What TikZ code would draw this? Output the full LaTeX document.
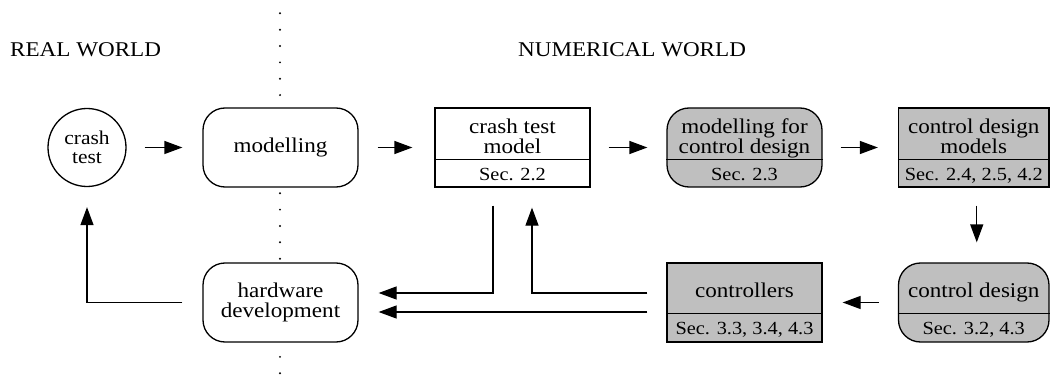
\documentclass[tikz,border=0pt]{standalone}
\usepackage{fontspec}
\setmainfont{Liberation Serif}[FakeStretch=1.1]
\usetikzlibrary{arrows.meta}

\newcommand\mainsz{\fontsize{21pt}{20pt}\selectfont}
\newcommand\secsz{\fontsize{18.5pt}{20pt}\selectfont}
\newcommand\circsz{\fontsize{19.5pt}{19pt}\selectfont}

\tikzset{
  stage/.style={draw, line width=1.3pt, fill=white, inner sep=0pt,
                minimum width=155pt, minimum height=79pt, align=center, font=\mainsz},
  roundstage/.style={stage, rounded corners=22pt},
  shaded/.style={fill=black!25},
  caption/.style={inner sep=0pt, align=center, font=\mainsz},
  seclabel/.style={inner sep=0pt, font=\secsz},
  splitline/.style={line width=1.3pt},
  flow/.style={line width=1.3pt, -{Triangle[length=18pt,width=13pt]}},
  worldlabel/.style={inner sep=0pt, anchor=base west, font=\mainsz},
}

\begin{document}
\begin{tikzpicture}[x=1pt, y=-1pt]
\useasboundingbox (0,0) rectangle (1050,377);

% border between the real and the numerical world
\coordinate (divtop) at (280,13.3);
\coordinate (divbot) at (280,377);
\draw[line width=2.2pt, line cap=round, dash pattern=on 0pt off 16.36pt] (divtop) -- (divbot);

\node[worldlabel] (real) at (10,57) {REAL WORLD};
\node[worldlabel] (numerical) at (518,57) {NUMERICAL WORLD};

% top row
\node[draw, circle, line width=1.3pt, fill=white, minimum size=78pt, inner sep=0pt,
      align=center, font=\circsz] (ct) at (87,147.5) {crash\\test};
\node[roundstage] (mod) at (280.5,147.5) {modelling};

\node[stage] (ctm) at (512.5,147.5) {};
\node[caption] (ctmtxt) at (512.5,136) {crash test\\model};
\draw[splitline] ([yshift=-52pt]ctm.north west) -- ([yshift=-52pt]ctm.north east);
\node[seclabel] (ctmsec) at (512.5,174.7) {Sec. 2.2};

\node[roundstage, shaded] (mcd) at (744.5,147.5) {};
\node[caption] (mcdtxt) at (744.5,138.2) {modelling for\\control design};
\draw[splitline] ([yshift=-52pt]mcd.north west) -- ([yshift=-52pt]mcd.north east);
\node[seclabel] (mcdsec) at (744.5,174.7) {Sec. 2.3};

\node[stage, shaded, minimum width=150.5pt] (cdm) at (973.75,147.5) {};
\node[caption] (cdmtxt) at (973.75,136) {control design\\models};
\draw[splitline] ([yshift=-52pt]cdm.north west) -- ([yshift=-52pt]cdm.north east);
\node[seclabel] (cdmsec) at (973.75,176) {Sec. 2.4, 2.5, 4.2};

% bottom row
\node[roundstage] (hw) at (280.5,302.5) {hardware\\development};

\node[stage, shaded] (ctrl) at (744.5,302.5) {};
\node[caption] (ctrltxt) at (744.5,290.3) {controllers};
\draw[splitline] ([yshift=-51pt]ctrl.north west) -- ([yshift=-51pt]ctrl.north east);
\node[seclabel] (ctrlsec) at (744.5,329.6) {Sec. 3.3, 3.4, 4.3};

\node[roundstage, shaded, minimum width=150.5pt] (cd) at (973.75,302.5) {};
\node[caption] (cdtxt) at (973.75,292.5) {control design};
\draw[splitline] ([yshift=-51pt]cd.north west) -- ([yshift=-51pt]cd.north east);
\node[seclabel] (cdsec) at (973.75,329.6) {Sec. 3.2, 4.3};

% forward chain
\draw[flow, shorten <=18pt, shorten >=20pt] (ct) -- (mod);
\draw[flow, shorten <=19pt, shorten >=22pt] (mod) -- (ctm);
\draw[flow, shorten <=18pt, shorten >=19pt] (ctm) -- (mcd);
\draw[flow, shorten <=18pt, shorten >=20pt] (mcd) -- (cdm);
\draw[flow] ([xshift=3pt,yshift=-18pt]cdm.south) -- ([xshift=3pt,yshift=20pt]cd.north);
\draw[flow, shorten <=19pt, shorten >=20pt] (cd) -- (ctrl);

% feedback towards hardware and the real world
\draw[flow] ([xshift=-19.5pt,yshift=-18pt]ctm.south) |- ([xshift=20pt,yshift=9.5pt]hw.east);
\draw[flow] ([xshift=-19pt,yshift=9.5pt]ctrl.west) -| ([xshift=19.5pt,yshift=-20pt]ctm.south);
\draw[flow] ([xshift=-19pt,yshift=-9.5pt]ctrl.west) -- ([xshift=20pt,yshift=-9.5pt]hw.east);
\draw[flow] ([xshift=-20pt]hw.west) -| ([yshift=-20pt]ct.south);
\end{tikzpicture}
\end{document}
